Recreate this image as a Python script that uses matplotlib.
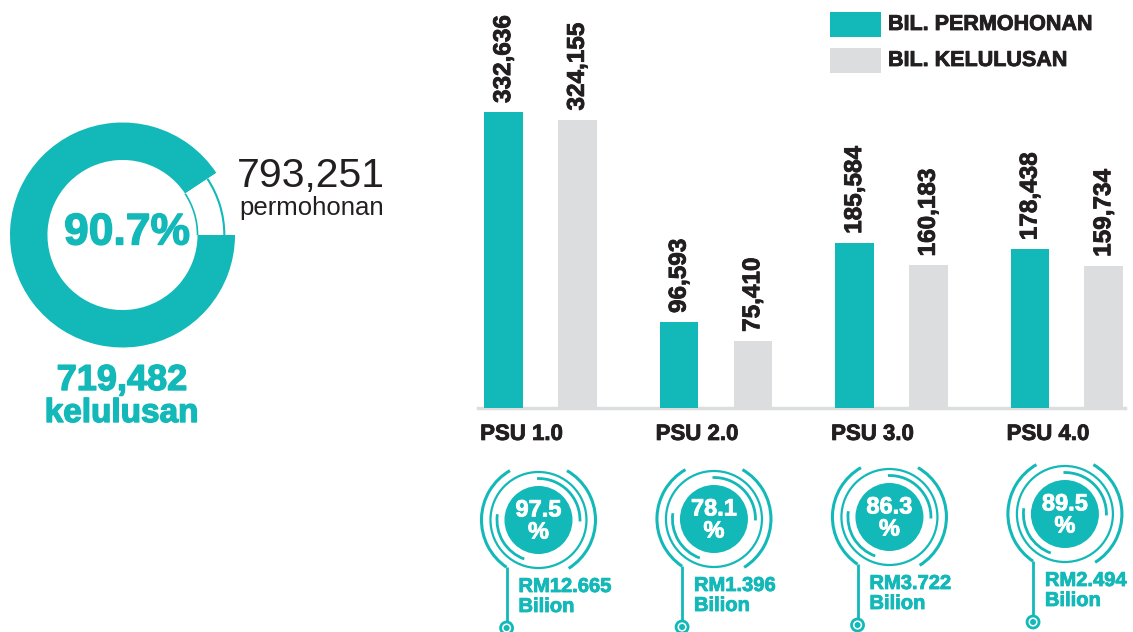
import numpy as np
import matplotlib
matplotlib.use("Agg")
import matplotlib.pyplot as plt
import matplotlib.patheffects as pe
from matplotlib.patches import Circle, Arc

W, H = 1133, 632

# data
categories = ["PSU 1.0", "PSU 2.0", "PSU 3.0", "PSU 4.0"]
permohonan = [332636, 96593, 185584, 178438]
kelulusan = [324155, 75410, 160183, 159734]
kadar_lulus = ["97.5", "78.1", "86.3", "89.5"]
nilai_rm = ["RM12.665", "RM1.396", "RM3.722", "RM2.494"]
jumlah_permohonan = 793251
jumlah_kelulusan = 719482

TEAL = "#13b8b8"
GREY = "#dcdddf"
INK = "#231f20"

plt.rcParams["font.family"] = ["Liberation Sans", "DejaVu Sans"]

def heavy(col, w=0.6):
    # the source font is a touch heavier than Liberation Bold
    return [pe.withStroke(linewidth=w, foreground=col)]

fig = plt.figure(figsize=(W / 100, H / 100), dpi=100)

# overlay in pixel coords, y from the top
ov = fig.add_axes([0, 0, 1, 1])
ov.set_xlim(0, W)
ov.set_ylim(H, 0)
ov.axis("off")

# ---- donut ----
R_px = 112.5
dcx, dcy = 122.5, 235
half = 120
pa = fig.add_axes([(dcx - half) / W, (H - dcy - half) / H, 2 * half / W, 2 * half / H])
pa.pie([jumlah_kelulusan, jumlah_permohonan - jumlah_kelulusan],
       colors=[TEAL, "white"], startangle=0, counterclock=False, radius=1,
       wedgeprops=dict(width=0.333, linewidth=0))
pa.set_xlim(-half / R_px, half / R_px)
pa.set_ylim(-half / R_px, half / R_px)
gap_deg = 360 * (1 - jumlah_kelulusan / jumlah_permohonan)
pa.add_patch(Arc((0, 0), 1.81, 1.81, theta1=0, theta2=gap_deg, color=TEAL, lw=1.5))
pa.add_patch(Arc((0, 0), 1.334, 1.334, theta1=0, theta2=gap_deg, color=TEAL, lw=1.2))
pa.axis("off")

pct_total = 100 * jumlah_kelulusan / jumlah_permohonan
ov.text(127, 233, f"{pct_total:.1f}%", ha="center", va="center",
        fontsize=32, fontweight="bold", color=TEAL, path_effects=heavy(TEAL, 1))
ov.text(311, 187, f"{jumlah_permohonan:,}", ha="center", va="baseline",
        fontsize=29.5, color=INK)
ov.text(312, 215, "permohonan", ha="center", va="baseline", fontsize=18.5, color=INK)
ov.text(122, 390, f"{jumlah_kelulusan:,}", ha="center", va="baseline",
        fontsize=26, fontweight="bold", color=TEAL, path_effects=heavy(TEAL, 1))
ov.text(122, 422, "kelulusan", ha="center", va="baseline",
        fontsize=24, fontweight="bold", color=TEAL, path_effects=heavy(TEAL, 1))

# ---- bars ----
ax = fig.add_axes([478 / W, (H - 408) / H, 647 / W, 398 / H])
x = np.arange(len(categories))
off, bw = 0.21, 0.22
b1 = ax.bar(x - off, permohonan, bw, color=TEAL, zorder=3, label="BIL. PERMOHONAN")
b2 = ax.bar(x + off, kelulusan, bw, color=GREY, zorder=3, label="BIL. KELULUSAN")
ax.set_xlim(-0.356, 3.331)
ax.set_ylim(0, 447265)
ax.axhline(0, color=GREY, lw=2.5, zorder=2, clip_on=False)
for s in ax.spines.values():
    s.set_visible(False)
ax.set_xticks([])
ax.set_yticks([])
ax.patch.set_alpha(0)

for bars, vals in ((b1, permohonan), (b2, kelulusan)):
    for rect, v in zip(bars, vals):
        ax.annotate(f"{v:,}", (rect.get_x() + rect.get_width() / 2, v),
                    xytext=(0, 6.5), textcoords="offset points", rotation=90,
                    ha="center", va="bottom", fontsize=17.5, fontweight="bold",
                    color=INK, path_effects=heavy(INK))

for rect, cat in zip(b1, categories):
    ax.annotate(cat, (rect.get_x(), 0), xytext=(-3, -23), textcoords="offset points",
                ha="left", va="baseline", fontsize=16, fontweight="bold", color=INK,
                annotation_clip=False, path_effects=heavy(INK))

# legend drawn by hand
for i, (col, lab) in enumerate(((TEAL, "BIL. PERMOHONAN"), (GREY, "BIL. KELULUSAN"))):
    y0 = 12 + i * 36
    ov.add_patch(plt.Rectangle((830, y0), 51, 25, color=col, lw=0))
    ov.text(888, y0 + 12.5, lab, ha="left", va="center", fontsize=15.5,
            fontweight="bold", color=INK, path_effects=heavy(INK))

# ---- badges ----
badge_dy = [520, 519, 517, 514]
for i in range(len(categories)):
    bx = ax.transData.transform((x[i], 0))[0] - 2
    by = badge_dy[i]
    ov.add_patch(Circle((bx, by), 34, color=TEAL, lw=0))
    ov.add_patch(Circle((bx, by), 48, fill=False, ec=TEAL, lw=1.6))
    for a, b in ((-2, 92), (172, 250)):
        ov.add_patch(Arc((bx, by), 83, 83, theta1=-b, theta2=-a, color=TEAL, lw=2))
    for a, b in ((-58, 60), (120, 236)):
        ov.add_patch(Arc((bx, by), 114, 114, theta1=-b, theta2=-a, color=TEAL, lw=2.2))
    t = np.radians(236)
    lx, ly = bx + 57 * np.cos(t), by - 57 * np.sin(t)
    ov.plot([lx, lx], [ly, by + 102], color=TEAL, lw=2, solid_capstyle="butt")
    ov.add_patch(Circle((lx, by + 108), 6, fc="white", ec=TEAL, lw=2))
    ov.add_patch(Circle((lx, by + 108), 3, color=TEAL, lw=0))
    ov.text(bx, by + 1, kadar_lulus[i] + "\n%", ha="center", va="center",
            fontsize=17, fontweight="bold", color="white", linespacing=0.95,
            path_effects=heavy("white"))
    ov.text(bx - 20, by + 72, nilai_rm[i], ha="left", va="baseline",
            fontsize=14.5, fontweight="bold", color=TEAL, path_effects=heavy(TEAL))
    ov.text(bx - 20, by + 92, "Bilion", ha="left", va="baseline",
            fontsize=14.5, fontweight="bold", color=TEAL, path_effects=heavy(TEAL))

fig.savefig("out.png", dpi=100)
